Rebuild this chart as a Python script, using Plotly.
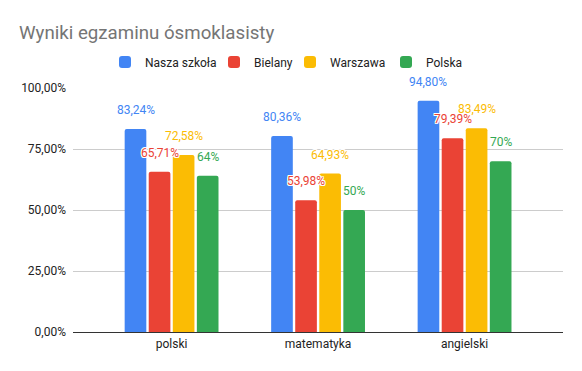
import plotly.graph_objects as go

categories = ["polski", "matematyka", "angielski"]
series_names = ["Nasza szkoła", "Bielany", "Warszawa", "Polska"]
nasza_szkola = [0.8324, 0.8036, 0.9480]
bielany = [0.6571, 0.5398, 0.7939]
warszawa = [0.7258, 0.6493, 0.8349]
polska = [0.64, 0.50, 0.70]
label_decimals = [2, 2, 2, 0]
y_tickvals = [0, 0.25, 0.5, 0.75, 1.0]

colors = ["#4285F4", "#EA4335", "#FBBC04", "#34A853"]
series_values = [nasza_szkola, bielany, warszawa, polska]

W, H = 582, 371
BARGAP = 0.343
BARGROUPGAP = 0.1
FONT = "Roboto, Arial, sans-serif"
# left edge (px) of each legend entry, one legend per series
legend_left_px = [105, 214, 290, 386]

legend_ids = ["legend", "legend2", "legend3", "legend4"]

fig = go.Figure()
for name, vals, col, lid in zip(series_names, series_values, colors, legend_ids):
    fig.add_trace(go.Bar(
        name=name, x=categories, y=vals, marker=dict(color=col, line=dict(width=0)),
        hoverinfo="skip", legend=lid,
    ))

def fmt(v, d):
    s = f"{v*100:.{d}f}".replace(".", ",")
    return s + "%"

n = len(series_names)
slot = (1 - BARGAP) / n
shadow = "1px 1px 0 #fff, -1px -1px 0 #fff, 1px -1px 0 #fff, -1px 1px 0 #fff, 0 1px 0 #fff, 0 -1px 0 #fff, 1px 0 0 #fff, -1px 0 0 #fff"
annotations = []
for k, (vals, col, d) in enumerate(zip(series_values, colors, label_decimals)):
    off = -(1 - BARGAP) / 2 + slot * (k + 0.5)
    for i, v in enumerate(vals):
        annotations.append(dict(
            x=i + off, y=v, xref="x", yref="y", text=fmt(v, d), showarrow=False,
            yshift=19, xanchor="center", yanchor="middle",
            font=dict(family=FONT, size=12, color=col, shadow=shadow),
        ))

legend_layout = {}
for lid, lx in zip(legend_ids, legend_left_px):
    legend_layout[lid] = dict(
        orientation="h", x=lx / W, xref="container", xanchor="left",
        y=1 - 62 / H, yref="container", yanchor="middle",
        font=dict(family=FONT, size=12, color="#222222"),
        bgcolor="rgba(0,0,0,0)", borderwidth=0,
        itemclick=False, itemdoubleclick=False,
    )

fig.update_layout(
    width=W, height=H,
    margin=dict(l=73, r=19, t=88, b=39, pad=0, autoexpand=False),
    paper_bgcolor="white", plot_bgcolor="white",
    separators=", ",
    barmode="group", bargap=BARGAP, bargroupgap=BARGROUPGAP,
    barcornerradius=2,
    font=dict(family=FONT, size=12, color="#222222"),
    title=dict(text="Wyniki egzaminu ósmoklasisty", x=19/W, xref="container", xanchor="left",
               y=1 - 32/H, yref="container", yanchor="middle",
               font=dict(family=FONT, size=18.7, color="#757575")),
    xaxis=dict(type="category", range=[-0.673, 2.672], showgrid=False, showline=False,
               ticks="", ticklabelstandoff=3, tickfont=dict(size=12, color="#222222"),
               fixedrange=True),
    yaxis=dict(range=[0, 1], tickvals=y_tickvals, tickformat=".2%", showgrid=True,
               gridcolor="#CCCCCC", gridwidth=1, zeroline=True, zerolinecolor="#333333",
               zerolinewidth=1, showline=False, ticks="", ticklabelstandoff=6,
               tickfont=dict(size=12, color="#222222"), fixedrange=True),
    annotations=annotations,
    showlegend=True,
    **legend_layout,
)

fig.write_html("out.html", config={"displayModeBar": False},
               post_script="document.body.style.margin='0';document.body.style.padding='0';")
